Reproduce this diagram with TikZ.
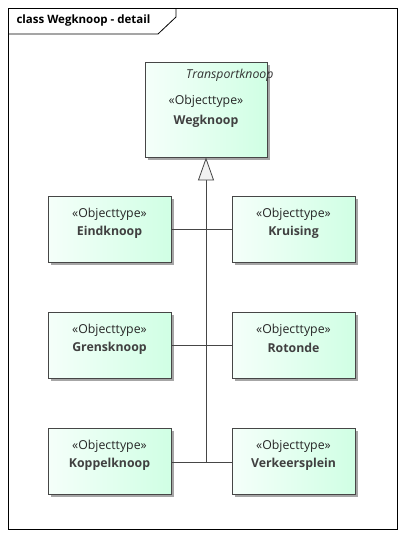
\documentclass[tikz,border=0pt]{standalone}
\usepackage{fontspec}
\setmainfont{Open Sans}
\usetikzlibrary{shadows,arrows.meta}
\definecolor{mintR}{RGB}{208,255,228}
\definecolor{mintL}{RGB}{245,255,250}
\definecolor{edge}{RGB}{70,70,70}
\tikzset{
  cls/.style={draw=edge, line width=0.9pt, left color=mintL, right color=mintR,
    minimum width=123pt, minimum height=66pt, inner sep=0pt,
    drop shadow={shadow xshift=3pt, shadow yshift=-3pt, fill=black!35, opacity=1}},
  stereo/.style={font=\fontsize{12.3}{14}\selectfont, text=black!85},
  cname/.style={font=\fontsize{12.3}{14}\selectfont\bfseries, text=black!75},
  conn/.style={draw=edge, line width=0.8pt}
}
\begin{document}
\begin{tikzpicture}[x=1pt,y=-1pt]
\useasboundingbox[fill=white] (0,0) rectangle (405,538);
% frame
\draw[line width=0.8pt] (8,8) rectangle (397,529);
\draw[line width=0.8pt] (8,34) -- (158,34) -- (176,17) -- (176,8);
\node[anchor=west, font=\fontsize{11.5}{13}\selectfont\bfseries] (title) at (13,21) {class Wegknoop - detail};
% parent
\node[cls, minimum width=122pt, minimum height=95pt] (weg) at (206,109.5) {};
\node[font=\fontsize{12.3}{14}\selectfont\itshape, text=black!80, anchor=east] (tk) at (277,75) {Transportknoop};
\node[stereo] (ws) at (206,101) {«Objecttype»};
\node[cname] (wn) at (206,121) {Wegknoop};
% children
\foreach \nm/\lbl/\x/\y in {eind/Eindknoop/109.5/229, kruis/Kruising/293.5/229,
  grens/Grensknoop/109.5/345, roto/Rotonde/293.5/345,
  koppel/Koppelknoop/109.5/461, verk/Verkeersplein/293.5/461}{
  \node[cls] (\nm) at (\x,\y) {};
  \node[stereo] (\nm s) at (\x,\y-15) {«Objecttype»};
  \node[cname] (\nm n) at (\x,\y+3) {\lbl};
}
% generalization tree
\coordinate (j1) at (206,229);
\coordinate (j2) at (206,345);
\coordinate (j3) at (206,462);
\draw[conn] (eind.east |- j1) -- (kruis.west |- j1);
\draw[conn] (grens.east |- j2) -- (roto.west |- j2);
\draw[conn] (koppel.east |- j3) -- (verk.west |- j3);
\draw[conn, -{Triangle[open, length=23pt, width=16pt, fill=black!5]}] (j3) -- (weg.south);
\end{tikzpicture}
\end{document}
